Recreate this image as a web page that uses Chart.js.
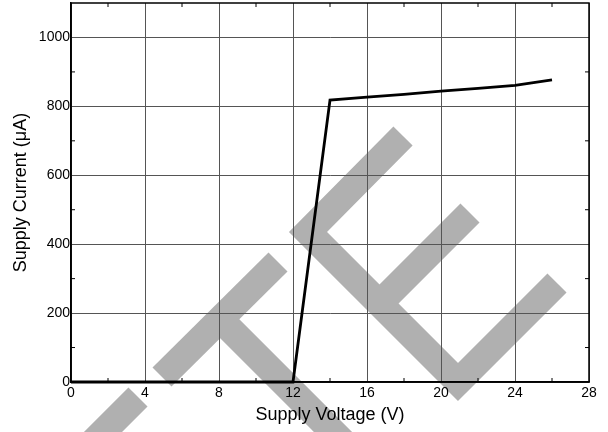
<!DOCTYPE html>
<html>
<head>
<meta charset="utf-8">
<script src="https://cdn.jsdelivr.net/npm/chart.js@4"></script>
<style>
  body { margin: 0; background: #fff; }
</style>
</head>
<body>
<canvas id="myChart" width="608" height="432"></canvas>
<script>
// supply current vs supply voltage
const voltage = [0, 12, 14, 16, 18, 20, 22, 24, 26];
const current = [0, 0, 818, 827, 835, 844, 852, 861, 877];

const xTicks = [0, 4, 8, 12, 16, 20, 24, 28];
const yTicks = [0, 200, 400, 600, 800, 1000];
const xMinor = [2, 6, 10, 14, 18, 22, 26];
const yMinor = [100, 300, 500, 700, 900];

const FONT = 'Liberation Sans, Arial, sans-serif';

// gray stamp behind the grid
const watermark = {
  id: 'watermark',
  beforeDraw(chart) {
    const ctx = chart.ctx;
    const bands = [
      [[138, 397], [90, 445]],
      [[162, 377], [278, 262]],
      [[220, 319], [345, 444]],
      [[403, 136], [308, 232], [458, 382], [557, 283]],
      [[380, 303], [470, 213]]
    ];
    ctx.save();
    ctx.strokeStyle = '#b0b0b0';
    ctx.lineWidth = 27;
    ctx.lineCap = 'butt';
    ctx.lineJoin = 'miter';
    bands.forEach(b => {
      ctx.beginPath();
      ctx.moveTo(b[0][0], b[0][1]);
      for (let i = 1; i < b.length; i++) ctx.lineTo(b[i][0], b[i][1]);
      ctx.stroke();
    });
    ctx.restore();
  }
};

// box round the plot and small inner ticks
const frame = {
  id: 'frame',
  afterDraw(chart) {
    const {ctx, chartArea: a, scales} = chart;
    ctx.save();
    ctx.strokeStyle = '#000';
    ctx.lineWidth = 1;
    ctx.beginPath();
    xMinor.forEach(v => {
      const px = scales.x.getPixelForValue(v);
      ctx.moveTo(px, a.bottom); ctx.lineTo(px, a.bottom - 4);
      ctx.moveTo(px, a.top); ctx.lineTo(px, a.top + 4);
    });
    yMinor.forEach(v => {
      const py = scales.y.getPixelForValue(v);
      ctx.moveTo(a.left, py); ctx.lineTo(a.left + 4, py);
      ctx.moveTo(a.right, py); ctx.lineTo(a.right - 4, py);
    });
    ctx.stroke();
    ctx.lineWidth = 1.5;
    ctx.strokeRect(a.left, a.top, a.right - a.left, a.bottom - a.top);
    ctx.restore();
  }
};

const data = {
  datasets: [{
    label: 'Supply Current',
    data: voltage.map((v, i) => ({x: v, y: current[i]})),
    borderColor: '#000',
    borderWidth: 2.8,
    pointRadius: 0,
    tension: 0,
    clip: 3
  }]
};

const config = {
  type: 'line',
  data,
  options: {
    responsive: false,
    animation: false,
    devicePixelRatio: 1,
    layout: {
      padding: {left: 0, right: 19, top: 3, bottom: 0}
    },
    plugins: {
      legend: {display: false},
      tooltip: {enabled: false}
    },
    scales: {
      x: {
        type: 'linear',
        min: 0,
        max: 28,
        afterBuildTicks: s => { s.ticks = xTicks.map(v => ({value: v})); },
        afterFit: s => { s.height = 50; s.paddingLeft = 0; s.paddingRight = 0; },
        grid: {color: '#555', lineWidth: 1, drawTicks: false},
        border: {color: '#000', width: 1.5},
        ticks: {
          color: '#000',
          padding: 3,
          maxRotation: 0,
          autoSkip: false,
          font: {family: FONT, size: 14},
          callback: v => String(v)
        },
        title: {
          display: true,
          text: 'Supply Voltage (V)',
          color: '#000',
          font: {family: FONT, size: 18},
          padding: {top: 0, bottom: 6}
        }
      },
      y: {
        min: 0,
        max: 1100,
        afterBuildTicks: s => { s.ticks = yTicks.map(v => ({value: v})); },
        afterFit: s => { s.width = 71; s.paddingTop = 0; s.paddingBottom = 0; },
        grid: {color: '#555', lineWidth: 1, drawTicks: false},
        border: {color: '#000', width: 1.5},
        ticks: {
          color: '#000',
          padding: 1,
          autoSkip: false,
          font: {family: FONT, size: 14},
          callback: v => String(v)
        },
        title: {
          display: true,
          text: 'Supply Current (μA)',
          color: '#000',
          font: {family: FONT, size: 18},
          padding: {top: 10, bottom: 0}
        }
      }
    }
  },
  plugins: [watermark, frame]
};

const myChart = new Chart(
  document.getElementById('myChart'),
  config
);
</script>
</body>
</html>
